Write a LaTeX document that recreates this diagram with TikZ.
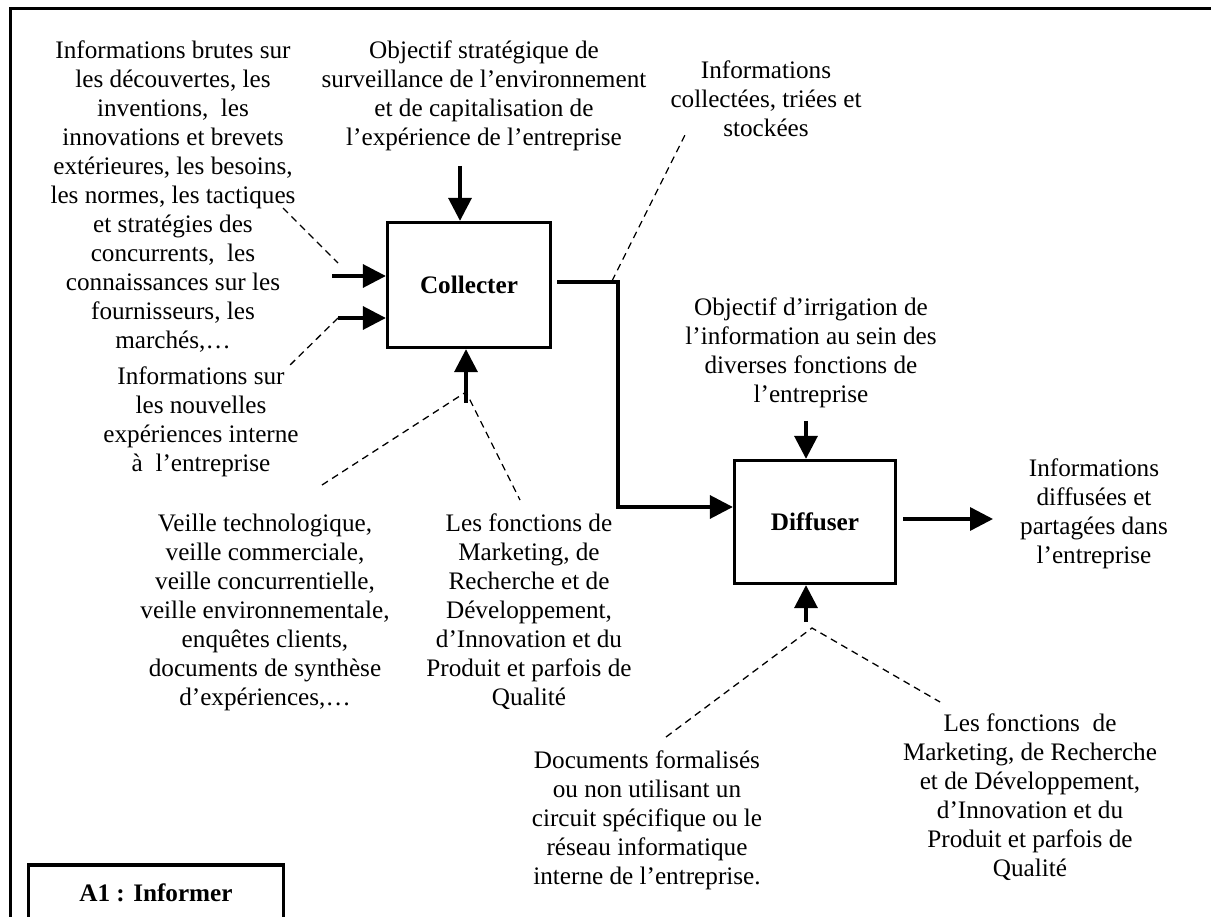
\documentclass[tikz,border=0pt]{standalone}
\usepackage{fontspec}
\setmainfont{Liberation Serif}
\usetikzlibrary{arrows.meta}
\begin{document}
\begin{tikzpicture}[x=1pt,y=-1pt,
  txt/.style={align=center, inner sep=0pt, font=\fontsize{25.2}{29}\selectfont},
  proc/.style={draw, line width=3.3pt, inner sep=0pt, font=\fontsize{25.2}{29}\selectfont\bfseries},
  arr/.style={line width=3.5pt, -{Triangle[width=23pt,length=23pt]}},
  lead/.style={line width=1.3pt, dash pattern=on 7pt off 5pt},
  frame/.style={line width=3pt}]
\useasboundingbox (0,0) rectangle (1211,917);
% outer frame (left and top edges visible)
\coordinate (fBL) at (10,960);
\coordinate (fTL) at (10,8.5);
\coordinate (fTR) at (1260,8.5);
\draw[frame] (fBL) -- (fTL) -- (fTR);

% process boxes
\node[proc, minimum width=163pt, minimum height=125pt] (C) at (469,285) {Collecter};
\node[proc, minimum width=161pt, minimum height=123pt] (D) at (815,522) {Diffuser};
\node[proc, minimum width=255pt, minimum height=56pt] (A1) at (156,893) {A1 : Informer};

% texts
\node[txt] (tIn1) at (173,197) {Informations brutes sur\\les découvertes, les\\inventions,\ \ les\\innovations et brevets\\extérieures, les besoins,\\les normes, les tactiques\\et stratégies des\\concurrents,\ \ les\\connaissances sur les\\fournisseurs, les\\marchés,…};
\node[txt] (tIn2) at (201,422) {Informations sur\\les nouvelles\\expériences interne\\à\ \ l’entreprise};
\node[txt] (tCtl1) at (484,96) {Objectif stratégique de\\surveillance de l’environnement\\et de capitalisation de\\l’expérience de l’entreprise};
\node[txt] (tOut1) at (766,99) {Informations\\collectées, triées et\\stockées};
\node[txt] (tCtl2) at (811,353) {Objectif d’irrigation de\\l’information au sein des\\diverses fonctions de\\l’entreprise};
\node[txt] (tMec1) at (265,612) {Veille technologique,\\veille commerciale,\\veille concurrentielle,\\veille environnementale,\\enquêtes clients,\\documents de synthèse\\d’expériences,…};
\node[txt] (tMec2) at (529,612) {Les fonctions de\\Marketing, de\\Recherche et de\\Développement,\\d’Innovation et du\\Produit et parfois de\\Qualité};
\node[txt] (tOut2) at (1094,514) {Informations\\diffusées et\\partagées dans\\l’entreprise};
\node[txt] (tMec3) at (647,820) {Documents formalisés\\ou non utilisant un\\circuit spécifique ou le\\réseau informatique\\interne de l’entreprise.};
\node[txt] (tMec4) at (1030,797) {Les fonctions\ \ de\\Marketing, de Recherche\\et de Développement,\\d’Innovation et du\\Produit et parfois de\\Qualité};

% arrow start / end coordinates
\coordinate (cTop) at (460,166);
\coordinate (cIn1) at (332,276);
\coordinate (cIn2) at (338,318);
\coordinate (cBot) at (466,403);
\coordinate (cOut) at (557,282);
\coordinate (k1) at (618,282);
\coordinate (k2) at (618,507);
\coordinate (dTop) at (806,421);
\coordinate (dBot) at (806,622);
\coordinate (dOut) at (993,519);

% arrows
\draw[arr] (cTop) -- (cTop |- C.north);
\draw[arr] (cIn1) -- (cIn1 -| C.west);
\draw[arr] (cIn2) -- (cIn2 -| C.west);
\draw[arr] (cBot) -- (cBot |- C.south);
\draw[arr] (cOut) -- (k1) -- (k2) -- (k2 -| D.west);
\draw[arr] (dTop) -- (dTop |- D.north);
\draw[arr] (dBot) -- (dBot |- D.south);
\draw[arr] (dOut -| D.east) ++(6,0) -- (dOut);

% dashed leaders
\coordinate (l1a) at (283,208);
\coordinate (l1b) at (338,263);
\coordinate (l2b) at (287,368);
\coordinate (l3a) at (466,392);
\coordinate (l3b) at (322,485);
\coordinate (l3c) at (520,500);
\coordinate (l4a) at (612,281);
\coordinate (l4b) at (685,135);
\coordinate (l5a) at (812,628);
\coordinate (l5b) at (666,737);
\coordinate (l5c) at (940,702);
\draw[lead] (l1a) -- (l1b);
\draw[lead] (cIn2) -- (l2b);
\draw[lead] (l3b) -- (l3a) -- (l3c);
\draw[lead] (l4a) -- (l4b);
\draw[lead] (l5b) -- (l5a) -- (l5c);
\end{tikzpicture}
\end{document}
